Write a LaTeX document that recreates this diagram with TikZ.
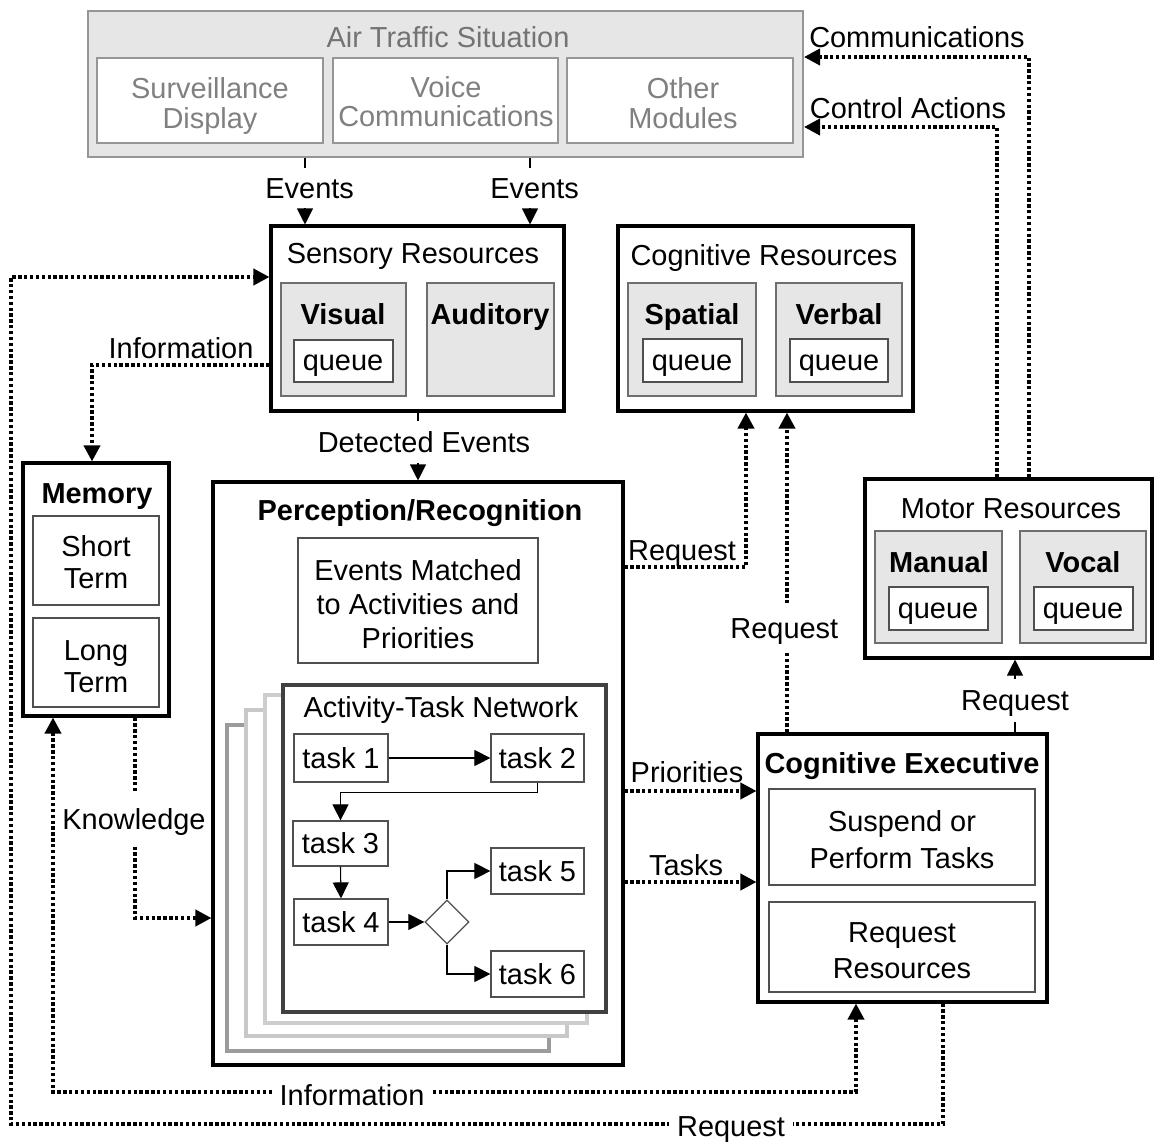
\documentclass[tikz,border=0pt]{standalone}
\usepackage{fontspec}
\setmainfont{Liberation Sans}
\usetikzlibrary{arrows.meta,fit,shapes.geometric,calc}
\definecolor{atsfill}{RGB}{230,230,230}
\definecolor{atsline}{RGB}{150,150,150}
\definecolor{atstext}{RGB}{128,128,128}
\definecolor{subfill}{RGB}{230,230,230}
\definecolor{subline}{RGB}{110,110,110}
\definecolor{inline}{RGB}{80,80,80}
\definecolor{pagea}{RGB}{205,205,205}
\definecolor{pageb}{RGB}{200,200,200}
\definecolor{pagec}{RGB}{155,155,155}
\definecolor{atnline}{RGB}{64,64,64}
\tikzset{
  thinbox/.style={draw=inline, fill=white, inner sep=0pt, line width=0.9pt},
  thickbox/.style={draw=black, fill=white, inner sep=0pt, line width=2.3pt},
  subres/.style={draw=subline, fill=subfill, inner sep=0pt, line width=1pt},
  qbox/.style={draw=inline, fill=white, inner sep=0pt, line width=1pt},
  atsbox/.style={draw=atsline, fill=white, inner sep=0pt, line width=1.1pt},
  pagebox/.style={fill=white, inner sep=0pt, line width=2.4pt},
  lbl/.style={inner sep=0pt, text height=15.5pt, text depth=0pt},
  blbl/.style={lbl, font=\bfseries\fontsize{21.7}{25}\selectfont},
  qtxt/.style={anchor=base, inner sep=0pt},
  ml/.style={align=center, inner sep=0pt, font=\fontsize{21.7}{#1}\selectfont},
  gaplbl/.style={fill=white, inner xsep=3pt, inner ysep=#1, text height=15.5pt, text depth=0pt},
  gaplbl/.default=7pt,
  dotline/.style={line width=2.8pt, dash pattern=on 2.5pt off 1.9pt},
  arr/.style={-{Triangle[length=12pt,width=12pt]}},
  darr/.style={{Triangle[length=12pt,width=12pt]}-{Triangle[length=12pt,width=12pt]}},
  solidline/.style={line width=0.8pt},
}
\begin{document}
\begin{tikzpicture}[x=0.75pt,y=-0.75pt,
  every node/.append style={font=\fontsize{21.7}{25}\selectfont}]
\useasboundingbox (0,0) rectangle (1154,1142);

% ---------------- Air Traffic Situation
\node[fit={(88,11)(803,157)}, draw=atsline, fill=atsfill, line width=1.5pt, inner sep=0pt] (ats) {};
\node[lbl, text=atstext!90!black] (atst) at (448,37) {Air Traffic Situation};
\node[atsbox, fit={(97,58)(323,143)}] (sd) {};
\node[ml=22.5pt, text=atstext] (sdt) at (210,106) {Surveillance\\Display};
\node[atsbox, fit={(333,58)(558,143)}] (vc) {};
\node[ml=21.8pt, text=atstext] (vct) at (446,102) {Voice\\Communications};
\node[atsbox, fit={(567,58)(793,143)}] (om) {};
\node[ml=23pt, text=atstext] (omt) at (683,103) {Other\\Modules};

% ---------------- Sensory Resources
\node[thickbox, fit={(271,226)(564,411)}] (sens) {};
\node[lbl] (senst) at (413,253) {Sensory Resources};
\node[subres, fit={(281,283)(406,396)}] (vis) {};
\node[blbl] (vist) at (343,314) {Visual};
\node[qbox, fit={(294,340)(393,382)}] (visq) {};
\node[qtxt] (visqt) at (343,370) {queue};
\node[subres, fit={(427,283)(554,396)}] (aud) {};
\node[blbl] (audt) at (490,314) {Auditory};

% ---------------- Cognitive Resources
\node[thickbox, fit={(618,226)(913,411)}] (cogres) {};
\node[lbl] (cogrest) at (764,255) {Cognitive Resources};
\node[subres, fit={(628,283)(756,396)}] (spa) {};
\node[blbl] (spat) at (692,314) {Spatial};
\node[qbox, fit={(643,339)(742,382)}] (spaq) {};
\node[qtxt] (spaqt) at (692,370) {queue};
\node[subres, fit={(776,283)(902,396)}] (ver) {};
\node[blbl] (vert) at (839,314) {Verbal};
\node[qbox, fit={(790,339)(888,382)}] (verq) {};
\node[qtxt] (verqt) at (839,370) {queue};

% ---------------- Motor Resources
\node[thickbox, fit={(865,479)(1152,658)}] (motor) {};
\node[lbl] (motort) at (1011,508) {Motor Resources};
\node[subres, fit={(875,531)(1002,643)}] (man) {};
\node[blbl] (mant) at (939,562) {Manual};
\node[qbox, fit={(889,587)(988,630)}] (manq) {};
\node[qtxt] (manqt) at (938,618) {queue};
\node[subres, fit={(1020,531)(1146,643)}] (voc) {};
\node[blbl] (voct) at (1083,562) {Vocal};
\node[qbox, fit={(1034,587)(1133,630)}] (vocq) {};
\node[qtxt] (vocqt) at (1083,618) {queue};

% ---------------- Memory
\node[thickbox, fit={(23,463)(169,716)}] (mem) {};
\node[blbl] (memt) at (97,493) {Memory};
\node[thinbox, fit={(33,516)(159,605)}] (stm) {};
\node[ml=23.5pt] (stmt) at (96,562) {Short\\Term};
\node[thinbox, fit={(33,618)(159,707)}] (ltm) {};
\node[ml=24pt] (ltmt) at (96,667) {Long\\Term};

% ---------------- Perception / Recognition
\node[thickbox, fit={(213,482)(623,1065)}] (perc) {};
\node[blbl] (perct) at (420,510) {Perception/Recognition};
\node[thinbox, fit={(298,538)(538,663)}] (emb) {};
\node[ml=25.5pt] (embt) at (418,604) {Events Matched\\to Activities and\\Priorities};

\node[pagebox, draw=pagec, fit={(227,725)(549,1051)}] (pg3) {};
\node[pagebox, draw=pageb, fit={(246,710)(567,1036)}] (pg2) {};
\node[pagebox, draw=pagea, fit={(265,695)(587,1023)}] (pg1) {};
\node[pagebox, draw=atnline, fit={(283,685)(606,1012)}] (atn) {};
\node[lbl] (atnt) at (441,707) {Activity-Task Network};

\node[thinbox, fit={(294,734)(388,782)}] (t1) {};
\node[lbl] at (t1.center) {task 1};
\node[thinbox, fit={(491,734)(584,782)}] (t2) {};
\node[lbl] at (t2.center) {task 2};
\node[thinbox, fit={(293,821)(388,866)}] (t3) {};
\node[lbl] at (t3.center) {task 3};
\node[thinbox, fit={(294,899)(388,945)}] (t4) {};
\node[lbl] at (t4.center) {task 4};
\node[thinbox, fit={(491,848)(584,894)}] (t5) {};
\node[lbl] at (t5.center) {task 5};
\node[thinbox, fit={(491,951)(584,997)}] (t6) {};
\node[lbl] at (t6.center) {task 6};
\node[diamond, draw=inline, line width=0.9pt, fill=white, minimum width=33pt, minimum height=33pt, inner sep=0pt] (dia) at (447,922) {};

\draw[arr, solidline] (t1) -- (t2);
\draw[arr, solidline] (t2.south) -- ++(0,10) -| (t3.north);
\draw[arr, solidline] (t3.south) -- (t4.north);
\draw[arr, solidline] (t4.east) -- (dia.west);
\draw[arr, solidline] (dia.north) |- (t5.west);
\draw[arr, solidline] (dia.south) |- (t6.west);

% ---------------- Cognitive Executive
\node[thickbox, fit={(758,734)(1047,1002)}] (ce) {};
\node[blbl] (cet) at (902,763) {Cognitive Executive};
\node[thinbox, fit={(769,789)(1035,885)}] (spt) {};
\node[ml=27.7pt] (sptt) at (902,840) {Suspend or\\Perform Tasks};
\node[thinbox, fit={(769,902)(1035,992)}] (rr) {};
\node[ml=27pt] (rrt) at (902,951) {Request\\Resources};

% ---------------- helper coordinates
\coordinate (ev1) at (305,0);
\coordinate (ev2) at (530,0);
\coordinate (dex) at (418,0);
\coordinate (mrx) at (1015,0);
\coordinate (c1) at (1029,57);
\coordinate (c2) at (997,127);
\coordinate (c3) at (943,1124);
\coordinate (c4) at (11,277);
\coordinate (c5) at (53,1092);
\coordinate (c6) at (856,1092);
\coordinate (c7) at (92,365);
\coordinate (c8) at (135,918);
\coordinate (c9) at (746,567);
\coordinate (c10) at (787,0);
\coordinate (c11) at (0,791);
\coordinate (c12) at (0,882);

% ---------------- solid connectors
\draw[arr, solidline] (ats.south -| ev1) -- node[gaplbl, pos=0.45, xshift=3.5pt] {Events} (sens.north -| ev1);
\draw[arr, solidline] (ats.south -| ev2) -- node[gaplbl, pos=0.45, xshift=3.5pt] {Events} (sens.north -| ev2);
\draw[arr, solidline] (sens.south -| dex) -- node[gaplbl=8pt, pos=0.44, xshift=4.5pt] {Detected Events} (perc.north -| dex);
\draw[arr, solidline] (ce.north -| mrx) -- node[gaplbl=8.5pt, pos=0.44] {Request} (motor.south -| mrx);

% ---------------- dotted connectors
\draw[dotline, arr] (motor.north -| c1) |- (ats.east |- c1);
\node[lbl] (comt) at (917,37) {Communications};
\draw[dotline, arr] (motor.north -| c2) |- (ats.east |- c2);
\node[lbl] (cat) at (908,108) {Control Actions};

\draw[dotline, arr] (ce.south -| c3) |- (c4 |- c3) -- (c4) -- (sens.west |- c4);
\node[gaplbl=2pt, inner xsep=6pt] (reqb) at (731,1126) {Request};

\draw[dotline, darr] (mem.south -| c5) |- (c6) -- (ce.south -| c6);
\node[gaplbl=2pt, inner xsep=6pt] (infb) at (352,1095) {Information};

\draw[dotline, arr] (sens.west |- c7) -| (mem.north -| c7);
\node[lbl] (inft) at (181,348) {Information};

\draw[dotline, arr] (mem.south -| c8) |- (perc.west |- c8);
\node[gaplbl=11pt, inner xsep=2pt] (know) at (134,819) {Knowledge};

\draw[dotline, arr] (perc.east |- c9) -| (cogres.south -| c9);
\node[lbl] (req1) at (682,550) {Request};

\draw[dotline, arr] (ce.north -| c10) -- node[gaplbl=10pt, pos=0.325, xshift=-2pt] {Request} (cogres.south -| c10);

\draw[dotline, arr] (perc.east |- c11) -- (ce.west |- c11);
\node[lbl] (prit) at (687,772) {Priorities};
\draw[dotline, arr] (perc.east |- c12) -- (ce.west |- c12);
\node[lbl] (taskt) at (686,865) {Tasks};
\end{tikzpicture}
\end{document}
